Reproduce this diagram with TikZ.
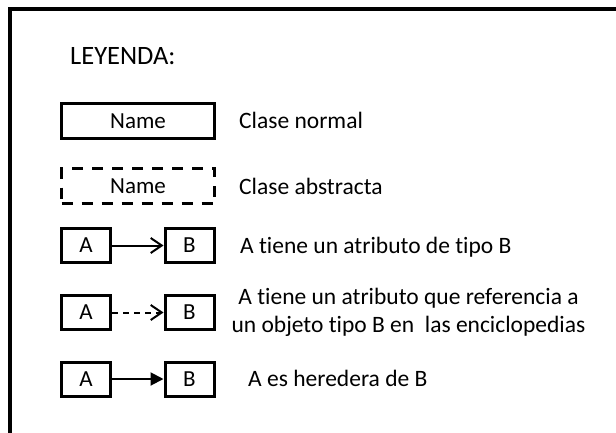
\documentclass[tikz,border=0pt]{standalone}
\usepackage{fontspec}
\setmainfont{Carlito}[Ligatures=NoCommon]
\usetikzlibrary{arrows.meta}

\tikzset{
  clase/.style={draw, line width=3pt, minimum width=153pt, minimum height=35pt, inner sep=0pt, font=\fontsize{23}{26}\selectfont},
  caja/.style={draw, line width=3pt, minimum width=49pt, minimum height=34pt, inner sep=0pt, font=\fontsize{23}{26}\selectfont},
  texto/.style={anchor=base west, inner sep=0pt, font=\fontsize{23.5}{28}\selectfont}
}

\begin{document}
\begin{tikzpicture}[x=1pt,y=-1pt]
		\useasboundingbox (0,0) rectangle (616,432);
		\draw[line width=4pt] (10,9) rectangle (640,460);

		\node[texto, font=\fontsize{26.5}{30}\selectfont] (titulo) at (70,64) {LEYENDA:};

		\node[clase] (normal) at (138,121) {Name};
		\node[texto] (tnormal) at (239,128) {Clase normal};

		\node[clase, dash pattern=on 11pt off 9pt] (abstracta) at (138,186) {Name};
		\node[texto] (tabstracta) at (239,194) {Clase abstracta};

		\node[caja] (a1) at (86,245.5) {A};
		\node[caja] (b1) at (189.5,245.5) {B};
		\draw[line width=2pt, -{Straight Barb[length=11pt,width=15pt]}] (a1) -- (b1);
		\node[texto] (t1) at (240,253) {A tiene un atributo de tipo B};

		\node[caja] (a2) at (86,312.5) {A};
		\node[caja] (b2) at (189.5,312.5) {B};
		\draw[line width=2pt, dash pattern=on 6pt off 5pt, -{Straight Barb[length=11pt,width=15pt]}] (a2) -- (b2);
		\node[font=\fontsize{23.5}{28}\selectfont, align=center, inner sep=0pt] (t2) at (408.5,312) {A tiene un atributo que referencia a\\un objeto tipo B en \ las enciclopedias};

		\node[caja] (a3) at (86,379) {A};
		\node[caja] (b3) at (189.5,379) {B};
		\draw[line width=2pt, -{Triangle[length=13pt,width=13pt]}] (a3) -- (b3);
		\node[texto] (t3) at (248,386) {A es heredera de B};
	\end{tikzpicture}
\end{document}
